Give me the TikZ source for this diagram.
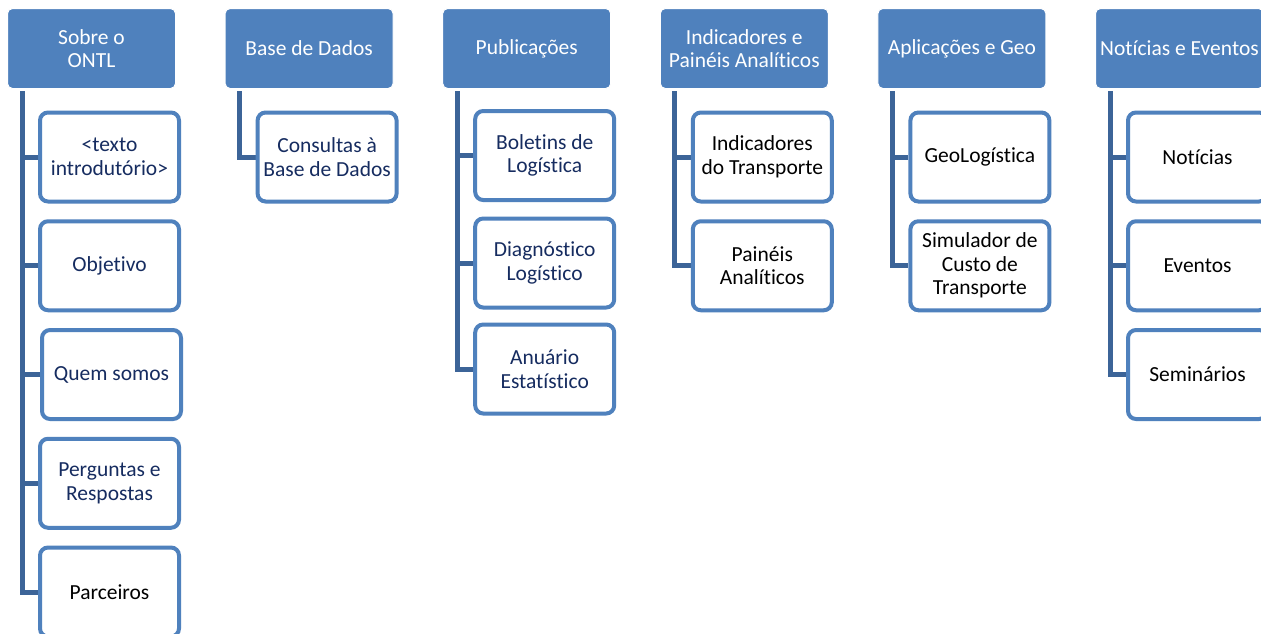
\documentclass[tikz,border=0pt]{standalone}
\usepackage{fontspec}
\setmainfont{Carlito}[Ligatures=NoCommon]
\usetikzlibrary{backgrounds}
\definecolor{ontlblue}{RGB}{79,129,189}
\definecolor{ontlline}{RGB}{60,100,152}
\definecolor{ontlnavy}{RGB}{22,44,96}
\tikzset{
  topic/.style={rectangle, rounded corners=5pt, fill=ontlblue, draw=white, line width=1pt,
    text=white, minimum width=168pt, minimum height=80pt, align=center,
    font=\fontsize{21.5}{23.5}\selectfont},
  item/.style={rectangle, rounded corners=8pt, draw=ontlblue, fill=white, line width=4pt,
    minimum width=139pt, minimum height=89pt, align=center, text=black,
    font=\fontsize{21.5}{23.5}\selectfont},
  navy/.style={text=ontlnavy},
  link/.style={draw=ontlline, line width=5pt},
}
\begin{document}
\begin{tikzpicture}[x=1pt, y=-1pt]
	\clip (0,0) rectangle (1261,633);

	% top level
	\node (sobre) at (91.5,48.5) [topic] {Sobre o\\ONTL};
	\node (base) at (309.1,48.5) [topic] {Base de Dados};
	\node (publ) at (526.7,48.5) [topic] {Publicações};
	\node (indic) at (744.3,48.5) [topic] {Indicadores e\\Painéis Analíticos};
	\node (aplic) at (961.9,48.5) [topic] {Aplicações e Geo};
	\node (notic) at (1179.5,48.5) [topic] {Notícias e Eventos};

	% Sobre o ONTL
	\node (texto) at (109.5,157) [item,navy] {<texto\\introdutório>};
	\node (objet) at (109.5,265.75) [item,navy] {Objetivo};
	\node (quem) at (111.5,374.5) [item,navy] {Quem somos};
	\node (pergs) at (109.5,483.25) [item,navy] {Perguntas e\\Respostas};
	\node (parc) at (109.5,592) [item] {Parceiros};

	% Base de Dados
	\node (consult) at (327.1,157) [item,navy] {Consultas à\\Base de Dados};

	% Publicações
	\node (bolet) at (544.7,155.5) [item,navy] {Boletins de\\Logística};
	\node (diagn) at (544.7,263) [item,navy] {Diagnóstico\\Logístico};
	\node (anuar) at (544.7,369) [item,navy] {Anuário\\Estatístico};

	% Indicadores e Painéis
	\node (indtr) at (762.3,157) [item] {Indicadores\\do Transporte};
	\node (painel) at (762.3,265.75) [item] {Painéis\\Analíticos};

	% Aplicações e Geo
	\node (geolog) at (979.9,157) [item] {GeoLogística};
	\node (simul) at (979.9,265.75) [item] {Simulador de\\Custo de\\Transporte};

	% Notícias e Eventos
	\node (notis) at (1197.5,157) [item] {Notícias};
	\node (event) at (1197.5,265.75) [item] {Eventos};
	\node (semin) at (1197.5,374.5) [item] {Seminários};

	\begin{scope}[on background layer]
	\fill[white] (0,0) rectangle (1261,633);
	\draw[link] ([xshift=-69.5pt,yshift=-2pt]sobre.south) |- (texto.west);
	\draw[link] ([xshift=-69.5pt,yshift=-2pt]sobre.south) |- (objet.west);
	\draw[link] ([xshift=-69.5pt,yshift=-2pt]sobre.south) |- (quem.west);
	\draw[link] ([xshift=-69.5pt,yshift=-2pt]sobre.south) |- (pergs.west);
	\draw[link] ([xshift=-69.5pt,yshift=-2pt]sobre.south) |- (parc.west);

	\draw[link] ([xshift=-69.5pt,yshift=-2pt]base.south) |- (consult.west);

	\draw[link] ([xshift=-69.5pt,yshift=-2pt]publ.south) |- (bolet.west);
	\draw[link] ([xshift=-69.5pt,yshift=-2pt]publ.south) |- (diagn.west);
	\draw[link] ([xshift=-69.5pt,yshift=-2pt]publ.south) |- (anuar.west);

	\draw[link] ([xshift=-69.5pt,yshift=-2pt]indic.south) |- (indtr.west);
	\draw[link] ([xshift=-69.5pt,yshift=-2pt]indic.south) |- (painel.west);

	\draw[link] ([xshift=-69.5pt,yshift=-2pt]aplic.south) |- (geolog.west);
	\draw[link] ([xshift=-69.5pt,yshift=-2pt]aplic.south) |- (simul.west);

	\draw[link] ([xshift=-69.5pt,yshift=-2pt]notic.south) |- (notis.west);
	\draw[link] ([xshift=-69.5pt,yshift=-2pt]notic.south) |- (event.west);
	\draw[link] ([xshift=-69.5pt,yshift=-2pt]notic.south) |- (semin.west);
	\end{scope}
\end{tikzpicture}
\end{document}
